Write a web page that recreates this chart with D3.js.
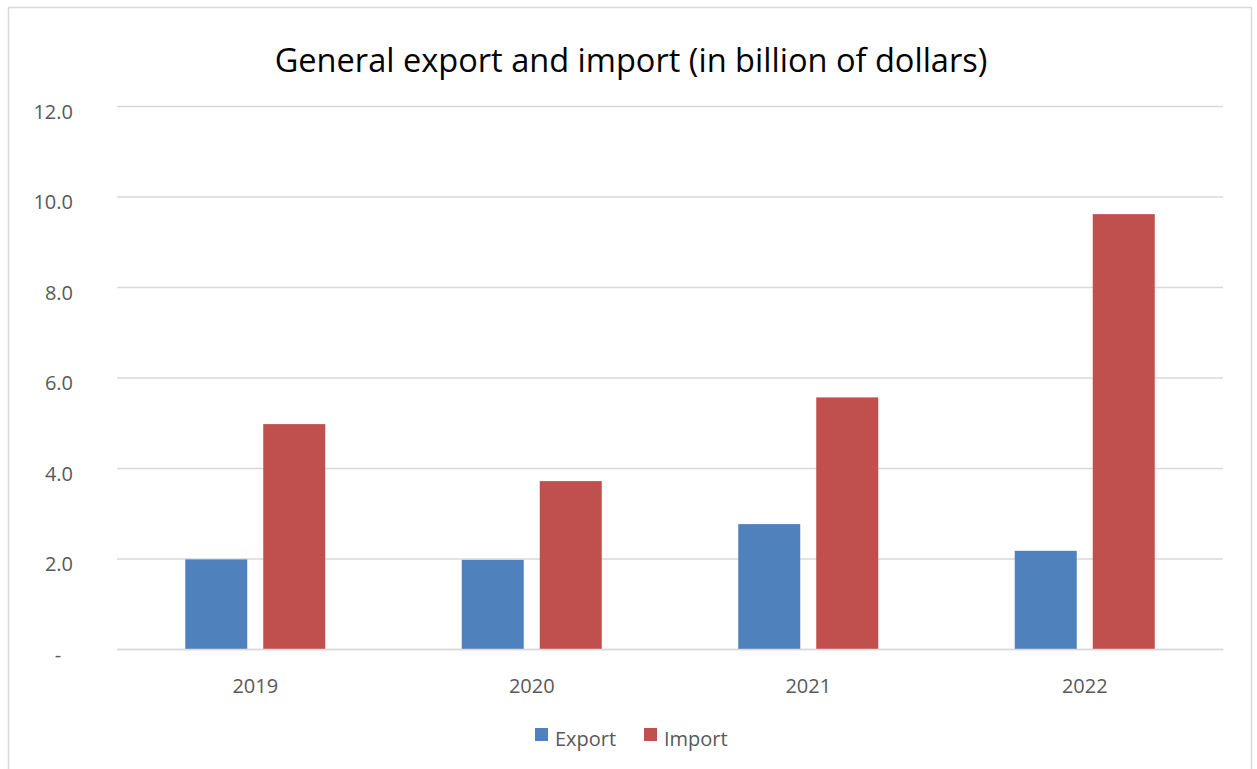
<!DOCTYPE html>
<html><head><meta charset="utf-8">
<script src="https://cdn.jsdelivr.net/npm/d3@7"></script>
<style>body{margin:0;background:#fff}svg{display:block}</style>
</head><body>
<svg id="c" width="1257" height="769"></svg>
<script>
const title = "General export and import (in billion of dollars)";
const categories = ["2019", "2020", "2021", "2022"];
const seriesNames = ["Export", "Import"];
const exportValues = [1.98, 1.97, 2.76, 2.17];
const importValues = [4.97, 3.71, 5.56, 9.61];
const yTicks = [0, 2, 4, 6, 8, 10, 12];
const colors = ["#4F81BD", "#C0504D"];

(function () {
const svg = d3.select("#c");
const font = "'Open Sans', 'Liberation Sans', sans-serif";
const textColor = "#595959";

// outer border
svg.append("rect").attr("x", 8.5).attr("y", 7.5).attr("width", 1243).attr("height", 775)
  .attr("fill", "#fff").attr("stroke", "#D9D9D9").attr("stroke-width", 1.5);

const pLeft = 117, pRight = 1223, pTop = 106, pBottom = 649;
const x = d3.scaleBand().domain(categories).range([pLeft, pRight]).paddingInner(0).paddingOuter(0);
const y = d3.scaleLinear().domain([0, 12]).range([pBottom, pTop]);
const inner = d3.scaleBand().domain(seriesNames).range([0, x.bandwidth()]).paddingInner(0.205).paddingOuter(0.875);

// gridlines
const yAxis = d3.axisLeft(y).tickValues(yTicks).tickSize(-(pRight - pLeft)).tickPadding(44)
  .tickFormat(d => d === 0 ? "-" : d3.format(".1f")(d));
const ga = svg.append("g").attr("transform", `translate(${pLeft},0)`).call(yAxis);
ga.select(".domain").remove();
ga.selectAll(".tick line").attr("stroke", "#D9D9D9").attr("stroke-width", 1.5);
ga.selectAll(".tick text").attr("fill", textColor).style("font-family", font).style("font-size", "20px")
  .attr("dy", "0.62em").attr("text-anchor", d => d === 0 ? "middle" : "end")
  .attr("x", d => d === 0 ? -59 : -44);

// bars
const data = categories.map((c, i) => ({cat: c, vals: [exportValues[i], importValues[i]]}));
const groups = svg.append("g").selectAll("g").data(data).join("g")
  .attr("transform", d => `translate(${x(d.cat)},0)`);
groups.selectAll("rect").data(d => d.vals.map((v, j) => ({name: seriesNames[j], v, j}))).join("rect")
  .attr("x", d => inner(d.name)).attr("width", inner.bandwidth())
  .attr("y", d => y(d.v)).attr("height", d => y(0) - y(d.v))
  .attr("fill", d => colors[d.j]);

// x axis
const xAxis = d3.axisBottom(x).tickSize(0).tickPadding(30);
const gx = svg.append("g").attr("transform", `translate(0,${pBottom})`).call(xAxis);
gx.select(".domain").attr("stroke", "#D9D9D9").attr("stroke-width", 1.5);
gx.selectAll(".tick text").attr("fill", textColor).style("font-family", font).style("font-size", "20px");

// title
const t = svg.append("text").attr("x", 631).attr("y", 72).attr("text-anchor", "middle")
  .style("font-family", font).style("font-size", "30px").attr("fill", "#000").text(title);
const w = t.node().getComputedTextLength();
t.style("font-size", (30 * 713 / w).toFixed(2) + "px");

// legend
const legendX = [535, 644];
const lg = svg.append("g").selectAll("g").data(seriesNames).join("g")
  .attr("transform", (d, i) => `translate(${legendX[i]},728)`);
lg.append("rect").attr("width", 13).attr("height", 13).attr("fill", (d, i) => colors[i]);
lg.append("text").attr("x", 20).attr("y", 18).attr("fill", textColor)
  .style("font-family", font).style("font-size", "20px").text(d => d);
})();
</script>
</body></html>
